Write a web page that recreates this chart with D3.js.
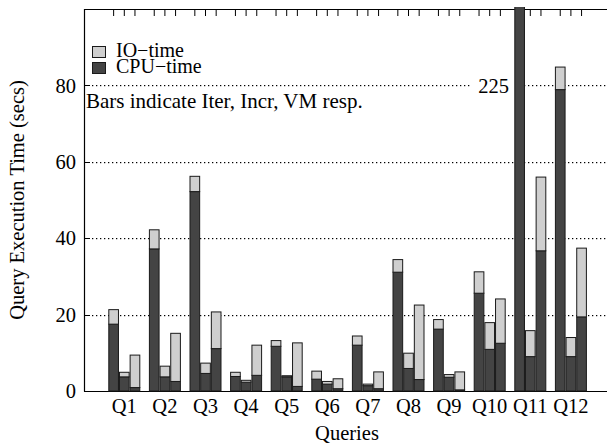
<!DOCTYPE html>
<html>
<head>
<meta charset="utf-8">
<script src="https://cdn.jsdelivr.net/npm/d3@7"></script>
<style>
  html, body { margin: 0; padding: 0; background: #fff; }
  svg { display: block; }
  text { font-family: "Liberation Serif", "DejaVu Serif", serif; fill: #000; }
</style>
</head>
<body>
<svg id="chart" width="607" height="447"></svg>
<script>
const categories = ["Q1","Q2","Q3","Q4","Q5","Q6","Q7","Q8","Q9","Q10","Q11","Q12"];
const variants = ["Iter","Incr","VM"];
const iterCPU = [17.5, 37.2, 52.2, 3.8, 11.7, 3.1, 12.0, 31.1, 16.2, 25.6, 225, 78.9];
const iterIO  = [3.8, 5.0, 4.0, 1.1, 1.5, 2.1, 2.4, 3.3, 2.5, 5.6, 0, 5.9];
const incrCPU = [3.7, 3.7, 4.6, 2.3, 3.7, 1.8, 1.4, 5.9, 3.6, 10.9, 9.0, 9.0];
const incrIO  = [1.2, 2.8, 2.7, 0.5, 0.3, 0.7, 0.4, 4.0, 0.7, 7.0, 6.8, 5.0];
const vmCPU   = [0.9, 2.5, 11.1, 4.1, 1.2, 0.6, 0.6, 3.0, 0.3, 12.5, 36.7, 19.4];
const vmIO    = [8.5, 12.6, 9.6, 7.9, 11.4, 2.6, 4.4, 19.5, 4.7, 11.6, 19.3, 18.0];
const yTicks = [0, 20, 40, 60, 80];
const legendLabels = ["IO\u2212time", "CPU\u2212time"];
const noteText = "Bars indicate Iter, Incr, VM resp.";
const outlierText = "225";
const xTitle = "Queries";
const yTitle = "Query Execution Time (secs)";

const cpuSeries = [iterCPU, incrCPU, vmCPU];
const ioSeries = [iterIO, incrIO, vmIO];

(function () {
const svg = d3.select("#chart");
const pL = 84, pT = 9, pB = 391, pR = 607;
const darkFill = "#444444", lightFill = "#cfcfcf", edge = "#1a1a1a";
const FS = 20.5;

const y = d3.scaleLinear().domain([0, 100]).range([pB, pT]);
const x = d3.scaleBand().domain(categories).range([104, 591.2]).paddingInner(0.212).paddingOuter(0.106);
const xi = d3.scaleBand().domain(variants).range([0, x.bandwidth()]).padding(0);

// grid lines (dotted)
const gridG = svg.append("g");
yTicks.filter(d => d > 0).forEach(d => {
  const yy = Math.round(y(d));
  gridG.selectAll(null).data(d3.range(pL + 8, pR, 4)).join("rect")
    .attr("x", xx => xx).attr("y", yy).attr("width", 1.3).attr("height", 1.2)
    .attr("fill", "#000");
});

// axes lines
const axisG = svg.append("g");
axisG.append("line").attr("x1", pL + 0.5).attr("x2", pL + 0.5).attr("y1", pT).attr("y2", pB + 0.5)
  .attr("stroke", "#000").attr("stroke-width", 1.2);
axisG.append("line").attr("x1", pL).attr("x2", pR).attr("y1", pB + 0.5).attr("y2", pB + 0.5)
  .attr("stroke", "#000").attr("stroke-width", 1.2);
axisG.append("line").attr("x1", pL).attr("x2", pR).attr("y1", pT + 0.5).attr("y2", pT + 0.5)
  .attr("stroke", "#000").attr("stroke-width", 1.2);

// y ticks + labels
axisG.selectAll(".yt").data(yTicks).join("line").attr("class", "yt")
  .attr("x1", pL).attr("x2", pL + 6)
  .attr("y1", d => Math.round(y(d)) + 0.5).attr("y2", d => Math.round(y(d)) + 0.5)
  .attr("stroke", "#000");
axisG.selectAll(".yl").data(yTicks).join("text").attr("class", "yl")
  .attr("x", 76).attr("y", d => y(d)).attr("dy", "0.35em")
  .attr("text-anchor", "end").attr("font-size", FS).text(d => d);

// top ticks at bar centres
const centers = [];
categories.forEach(c => variants.forEach(v => centers.push(x(c) + xi(v) + xi.bandwidth() / 2)));
axisG.selectAll(".tt").data(centers).join("line").attr("class", "tt")
  .attr("x1", d => d).attr("x2", d => d).attr("y1", pT).attr("y2", pT + 7)
  .attr("stroke", "#000");

// x labels
axisG.selectAll(".xl").data(categories).join("text").attr("class", "xl")
  .attr("x", d => x(d) + x.bandwidth() / 2).attr("y", 413)
  .attr("text-anchor", "middle").attr("font-size", FS).text(d => d);

// titles
svg.append("text").attr("x", 347).attr("y", 440).attr("text-anchor", "middle")
  .attr("font-size", FS).text(xTitle);
svg.append("text").attr("transform", "translate(24," + 200 + ") rotate(-90)")
  .attr("text-anchor", "middle").attr("font-size", FS).text(yTitle);

// outlier label background + text
const lbl = svg.append("g");
lbl.append("rect").attr("x", 472).attr("y", y(80) - 10).attr("width", 42).attr("height", 20).attr("fill", "#fff");
lbl.append("text").attr("x", 509).attr("y", y(80)).attr("dy", "0.35em").attr("text-anchor", "end")
  .attr("font-size", FS).text(outlierText);

// bars
svg.append("defs").append("clipPath").attr("id", "clip")
  .append("rect").attr("x", pL).attr("y", 7).attr("width", pR - pL).attr("height", pB - 7 + 1);
const bars = [];
categories.forEach((c, i) => variants.forEach((v, j) => {
  const cpu = cpuSeries[j][i], io = ioSeries[j][i];
  bars.push({c, v, y0: 0, y1: cpu, fill: darkFill});
  if (io > 0) bars.push({c, v, y0: cpu, y1: cpu + io, fill: lightFill});
}));
svg.append("g").attr("clip-path", "url(#clip)").selectAll("rect").data(bars).join("rect")
  .attr("x", d => x(d.c) + xi(d.v) + 0.5)
  .attr("width", xi.bandwidth() - 1)
  .attr("y", d => y(d.y1))
  .attr("height", d => y(d.y0) - y(d.y1))
  .attr("fill", d => d.fill).attr("stroke", edge).attr("stroke-width", 1);

// legend
const legend = svg.append("g");
const legFills = [lightFill, darkFill];
legend.selectAll("rect").data(legendLabels).join("rect")
  .attr("x", 92.5).attr("y", (d, i) => 46.5 + i * 16).attr("width", 13).attr("height", 11)
  .attr("fill", (d, i) => legFills[i]).attr("stroke", edge);
legend.append("text").attr("font-size", 20)
  .selectAll("tspan").data(legendLabels).join("tspan")
  .attr("x", 116).attr("y", (d, i) => 57 + i * 15.5).text(d => d);

svg.append("text").attr("x", 86).attr("y", 108).attr("font-size", 21).text(noteText);
})();
</script>
</body>
</html>
